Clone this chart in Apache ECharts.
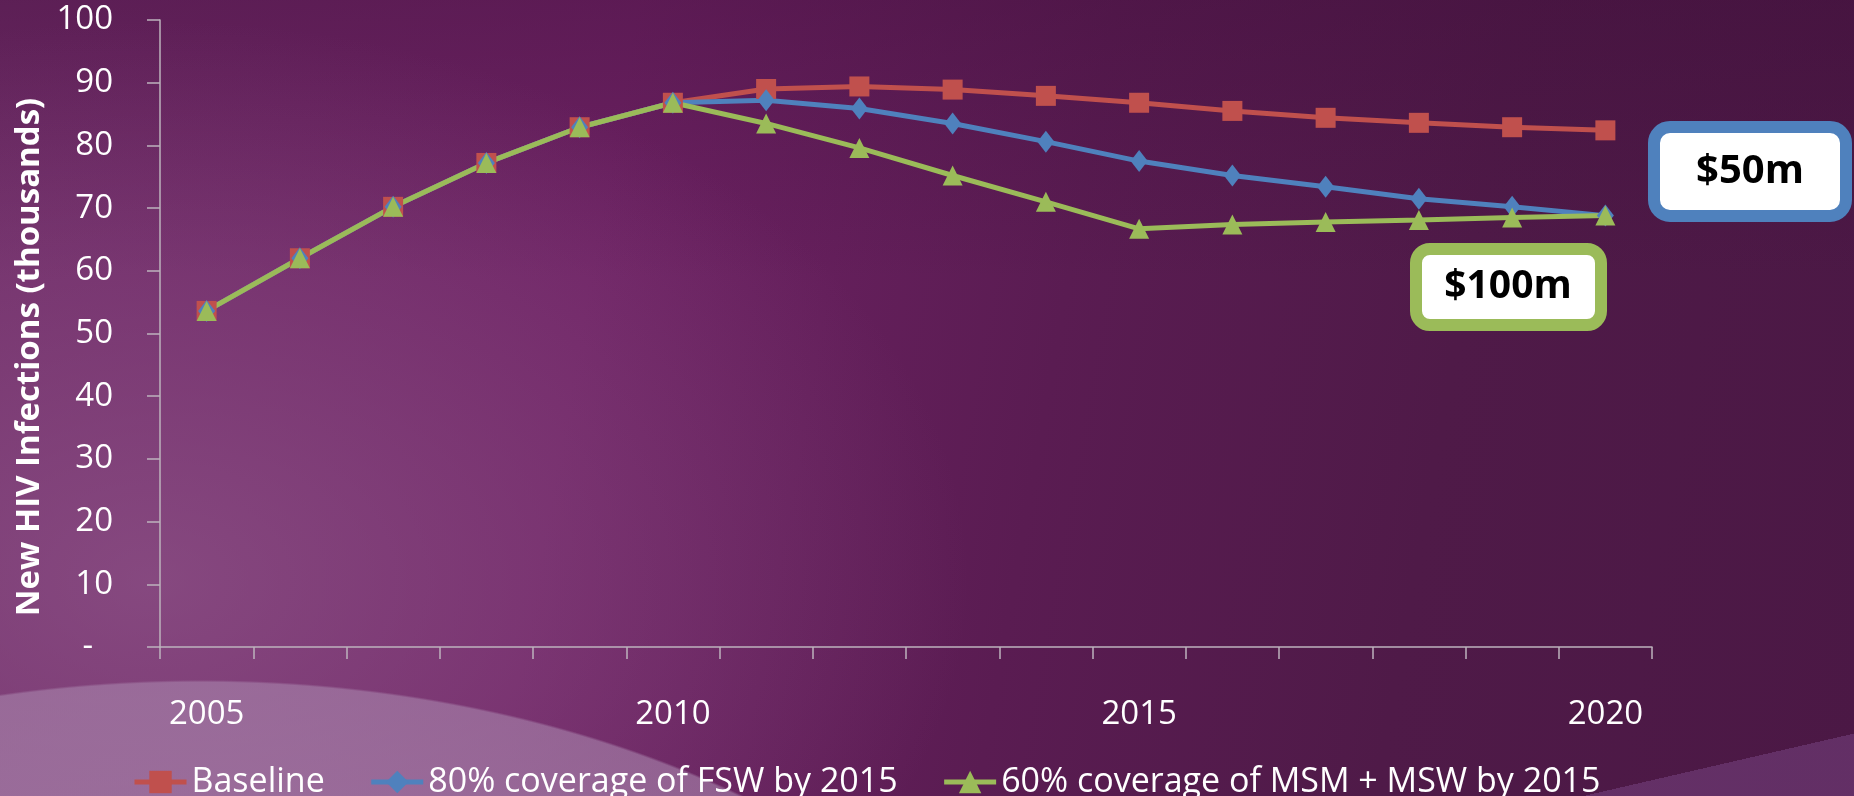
<!DOCTYPE html>
<html>
<head>
<meta charset="utf-8">
<script src="https://cdn.jsdelivr.net/npm/echarts@6/dist/echarts.min.js"></script>
<style>
	html, body { margin: 0; padding: 0; }
	#main {
		width: 1854px;
		height: 796px;
		background:
			linear-gradient(167deg, rgba(0,0,0,0) 94.9%, rgba(118, 66, 128, 0.55) 94.9%),
			radial-gradient(900px 570px at 200px 1250px, rgba(178, 145, 182, 0.75) 0, rgba(168, 132, 172, 0.62) 99.6%, rgba(0,0,0,0) 100%),
			radial-gradient(ellipse 820px 560px at 150px 580px, rgba(150, 95, 145, 0.6), rgba(0,0,0,0) 100%),
			linear-gradient(to bottom, rgba(60, 12, 55, 0.35) 0%, rgba(0,0,0,0) 35%),
			linear-gradient(100deg, #6e2a66 0%, #6e2264 32%, #5a1c52 56%, #4f1a48 76%, #4b1845 100%);
	}
</style>
</head>
<body>
<div id="main"></div>
<script>
	var years = ['2005', '2006', '2007', '2008', '2009', '2010', '2011', '2012',
		'2013', '2014', '2015', '2016', '2017', '2018', '2019', '2020'];
	var baseline = [53.6, 62.0, 70.2, 77.2, 82.9, 86.8, 89.0, 89.4, 88.9, 87.9, 86.8, 85.5, 84.4, 83.6, 82.9, 82.4];
	var fswCoverage = [53.6, 62.0, 70.2, 77.2, 82.9, 86.8, 87.2, 85.9, 83.5, 80.6, 77.5, 75.2, 73.4, 71.5, 70.2, 68.8];
	var msmCoverage = [53.6, 62.0, 70.2, 77.2, 82.9, 86.8, 83.5, 79.6, 75.2, 71.0, 66.7, 67.4, 67.8, 68.1, 68.5, 68.8];
	var seriesNames = ['Baseline', '80% coverage of FSW by 2015', '60% coverage of MSM + MSW by 2015'];
	var seriesColors = ['#c0504d', '#4f81bd', '#9bbb59'];
	var yTicks = [0, 10, 20, 30, 40, 50, 60, 70, 80, 90, 100];

	var font = '"Open Sans", "DejaVu Sans", sans-serif';
	var axisColor = '#bdb3bd';

	var chart = echarts.init(document.getElementById('main'));

	var option = {
		backgroundColor: 'transparent',
		animation: false,
		grid: {
			left: 160,
			right: 202,
			top: 20,
			bottom: 149
		},
		legend: {
			data: seriesNames.map(function (n, i) {
				return {
					name: n,
					lineStyle: { width: 5, color: seriesColors[i] }
				};
			}),
			left: 127,
			top: 760,
			itemWidth: 52,
			itemHeight: 28,
			itemGap: 44,
			lineStyle: { width: 5, inactiveWidth: 5 },
			textStyle: {
				color: '#fff',
				fontFamily: font,
				fontSize: 34
			}
		},
		xAxis: {
			type: 'category',
			data: years,
			boundaryGap: true,
			axisLine: { lineStyle: { color: axisColor, width: 1.5 } },
			axisTick: { show: true, interval: 0, length: 12, lineStyle: { color: axisColor, width: 1.5 } },
			axisLabel: {
				interval: 4,
				margin: 51,
				color: '#fff',
				fontFamily: font,
				fontSize: 33
			},
			splitLine: { show: false }
		},
		yAxis: {
			type: 'value',
			min: yTicks[0],
			max: yTicks[yTicks.length - 1],
			interval: 10,
			axisLine: { show: true, lineStyle: { color: axisColor, width: 1.5 } },
			axisTick: { show: true, length: 13, lineStyle: { color: axisColor, width: 1.5 } },
			axisLabel: {
				margin: 47,
				color: '#fff',
				fontFamily: font,
				fontSize: 33,
				formatter: function (v) {
					return v === 0 ? '{d|-}' : String(v);
				},
				rich: {
					d: { color: '#fff', fontFamily: font, fontSize: 33, padding: [0, 20, 0, 0] }
				}
			},
			splitLine: { show: false }
		},
		graphic: [
			{
				type: 'text',
				x: 30,
				y: 357,
				rotation: Math.PI / 2,
				style: {
					text: 'New HIV Infections (thousands)',
					fill: '#fff',
					font: 'bold 33px ' + font,
					align: 'center',
					verticalAlign: 'middle'
				}
			},
			// $50m box
			{
				type: 'rect',
				shape: { x: 1654, y: 127, width: 192, height: 89, r: 16 },
				style: { fill: '#fff', stroke: '#4f81bd', lineWidth: 12 }
			},
			{
				type: 'text',
				x: 1750,
				y: 172,
				style: {
					text: '$50m',
					fill: '#000',
					font: 'bold 40px ' + font,
					align: 'center',
					verticalAlign: 'middle'
				}
			},
			// $100m box
			{
				type: 'rect',
				shape: { x: 1416, y: 249, width: 185, height: 76, r: 14 },
				style: { fill: '#fff', stroke: '#9bbb59', lineWidth: 12 }
			},
			{
				type: 'text',
				x: 1508,
				y: 287,
				style: {
					text: '$100m',
					fill: '#000',
					font: 'bold 39px ' + font,
					align: 'center',
					verticalAlign: 'middle'
				}
			}
		],
		series: [
			{
				name: seriesNames[0],
				type: 'line',
				data: baseline,
				symbol: 'rect',
				symbolSize: 20,
				lineStyle: { color: seriesColors[0], width: 5 },
				itemStyle: { color: seriesColors[0] }
			},
			{
				name: seriesNames[1],
				type: 'line',
				data: fswCoverage,
				symbol: 'diamond',
				symbolSize: [17, 22],
				lineStyle: { color: seriesColors[1], width: 5 },
				itemStyle: { color: seriesColors[1] }
			},
			{
				name: seriesNames[2],
				type: 'line',
				data: msmCoverage,
				symbol: 'triangle',
				symbolSize: 20,
				lineStyle: { color: seriesColors[2], width: 5 },
				itemStyle: { color: seriesColors[2] }
			}
		]
	};

	chart.setOption(option);
</script>
</body>
</html>
